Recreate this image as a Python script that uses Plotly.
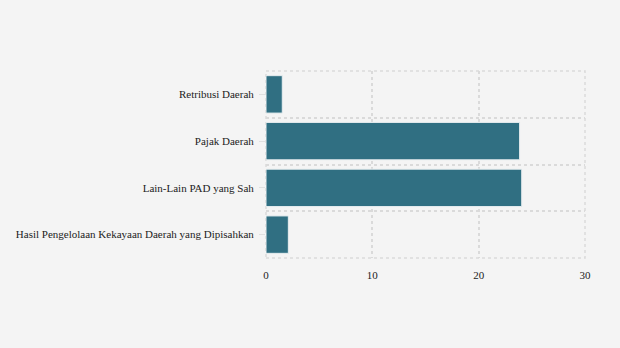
import plotly.graph_objects as go

categories = ["Hasil Pengelolaan Kekayaan Daerah yang Dipisahkan", "Lain-Lain PAD yang Sah", "Pajak Daerah", "Retribusi Daerah"]
values = [2.1, 24.05, 23.85, 1.53]
x_ticks = [0, 10, 20, 30]

positions = list(range(len(categories)))
boundaries = [p - 0.5 for p in positions] + [positions[-1] + 0.5]

fig = go.Figure()
fig.add_trace(go.Bar(
    x=values, y=positions, orientation="h", width=0.8,
    marker=dict(color="#306f82", line=dict(color="#e8eef0", width=1)),
    showlegend=False, hoverinfo="x+text", text=categories, textposition="none",
))
fig.add_trace(go.Scatter(x=[None], y=[None], yaxis="y2", showlegend=False))

font = dict(family="Liberation Serif", size=11, color="#222222")
grid = "#dadada"
fig.update_layout(
    width=620, height=348,
    margin=dict(l=266, r=35, t=71, b=90),
    paper_bgcolor="#f4f4f4", plot_bgcolor="#f4f4f4",
    font=font,
    xaxis=dict(range=[0, 30], tickvals=x_ticks, showgrid=True, gridcolor=grid,
               griddash="dot", gridwidth=1.5, zeroline=False, showline=False,
               ticks="", tickfont=font, ticklabelstandoff=9, fixedrange=True),
    yaxis=dict(range=[boundaries[0], boundaries[-1]], tickvals=positions, ticktext=categories,
               showgrid=False, zeroline=False, showline=False, ticks="outside",
               ticklen=6, tickcolor="#e0e0e0", tickwidth=1, tickfont=font,
               ticklabelstandoff=3, fixedrange=True),
    yaxis2=dict(range=[boundaries[0], boundaries[-1]], overlaying="y", tickvals=boundaries,
                showticklabels=False, showgrid=True, gridcolor=grid, griddash="dot",
                gridwidth=1.5, zeroline=False, showline=False, ticks="", fixedrange=True),
    shapes=[dict(type="rect", xref="paper", yref="paper", x0=0, x1=1, y0=0, y1=1,
                 line=dict(color=grid, width=1.5, dash="dot"), layer="below")],
)
fig.write_html("out.html")
